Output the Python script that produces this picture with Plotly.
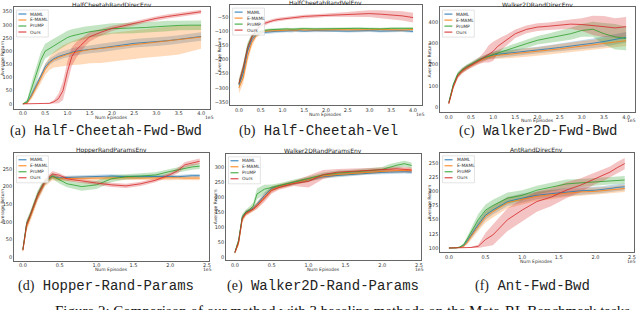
import numpy as np
import plotly.graph_objects as go

W, H = 640, 310

SERIES = ["MAML", "E-MAML", "ProMP", "Ours"]
COLORS = ["#1f77b4", "#ff7f0e", "#2ca02c", "#d62728"]
FILLS = ["rgba(31,119,180,0.28)", "rgba(255,127,14,0.28)", "rgba(44,160,44,0.28)", "rgba(214,39,40,0.28)"]

X_TOP = [0, 0.1, 0.2, 0.3, 0.4, 0.5, 0.6, 0.7, 0.8, 0.9, 1.0, 1.1, 1.2, 1.3, 1.4, 1.5,
         1.75, 2.0, 2.25, 2.5, 2.75, 3.0, 3.25, 3.5, 3.75, 4.0]
X_BOT = [0, 0.05, 0.1, 0.15, 0.2, 0.25, 0.3, 0.4, 0.5, 0.6, 0.8, 1.0, 1.2, 1.4, 1.6, 1.8,
         2.0, 2.1, 2.2, 2.3, 2.4]

# (a) HalfCheetahRandDirecEnv
A_MAML = [0, 5, 35, 70, 100, 140, 160, 172, 180, 186, 192, 196, 200, 203, 205, 207, 212, 217, 224, 230, 233, 236, 240, 245, 250, 256]
A_MAML_SD = [0, 3, 10, 12, 12, 12, 12, 12, 14, 14, 15, 15, 15, 15, 15, 15, 16, 16, 16, 16, 16, 16, 16, 16, 16, 16]
A_EMAML = [0, 3, 30, 65, 95, 130, 155, 168, 176, 183, 188, 193, 197, 200, 203, 206, 210, 215, 220, 225, 230, 235, 238, 243, 248, 254]
A_EMAML_SD = [0, 3, 12, 15, 18, 20, 25, 30, 35, 40, 42, 45, 48, 50, 52, 52, 55, 55, 55, 55, 55, 55, 55, 55, 50, 45]
A_PROMP = [0, 10, 60, 110, 165, 200, 210, 220, 232, 243, 252, 258, 262, 266, 270, 274, 280, 286, 287, 288, 290, 293, 296, 298, 299, 299]
A_PROMP_SD = [0, 8, 25, 30, 30, 28, 28, 28, 28, 28, 26, 25, 25, 24, 24, 22, 22, 20, 20, 20, 20, 20, 20, 18, 18, 18]
A_OURS = [0, 0, 0, 0, 0, 0, 2, 8, 20, 50, 122, 180, 205, 222, 240, 255, 272, 287, 296, 306, 316, 325, 332, 338, 345, 350]
A_OURS_SD = [0, 0, 0, 0, 0, 0, 2, 8, 18, 35, 40, 35, 30, 25, 20, 18, 12, 10, 8, 8, 8, 8, 8, 8, 8, 8]

# (b) HalfCheetahRandVelEnv
B_MAML = [-290, -250, -170, -130, -112, -106, -104, -102, -101, -100, -100, -99, -100, -98, -99, -100, -98, -99, -98, -100, -99, -98, -100, -99, -98, -101]
B_MAML_SD = [15, 15, 15, 12, 8, 6, 6, 6, 5, 5, 5, 5, 5, 5, 5, 5, 5, 5, 5, 5, 5, 5, 5, 5, 5, 5]
B_EMAML = [-300, -265, -190, -140, -115, -105, -100, -99, -98, -97, -97, -96, -96, -97, -95, -96, -95, -96, -95, -95, -96, -95, -94, -95, -96, -94]
B_EMAML_SD = [20, 20, 18, 14, 8, 6, 5, 5, 5, 5, 5, 5, 5, 5, 5, 5, 5, 5, 5, 5, 5, 5, 5, 5, 5, 5]
B_PROMP = [-285, -230, -155, -118, -105, -100, -97, -95, -94, -93, -93, -92, -93, -92, -92, -91, -92, -91, -92, -91, -90, -91, -92, -90, -91, -90]
B_PROMP_SD = [15, 18, 15, 10, 6, 5, 4, 4, 4, 4, 4, 4, 4, 4, 4, 4, 4, 4, 4, 4, 4, 4, 4, 4, 4, 4]
B_OURS = [-285, -230, -160, -120, -95, -80, -72, -66, -62, -59, -57, -55, -53, -51, -50, -48, -46, -44, -42, -40, -39, -38, -40, -42, -46, -52]
B_OURS_SD = [15, 15, 15, 12, 10, 8, 7, 6, 6, 6, 6, 6, 6, 6, 6, 6, 6, 6, 7, 8, 10, 12, 14, 15, 16, 17]

# (c) Walker2DRandDirecEnv
C_MAML = [20, 100, 150, 170, 185, 198, 210, 220, 230, 238, 244, 248, 250, 252, 254, 256, 262, 268, 274, 280, 286, 292, 300, 308, 318, 328]
C_MAML_SD = [5, 10, 10, 10, 10, 10, 10, 10, 12, 12, 15, 15, 15, 15, 15, 15, 16, 16, 16, 18, 18, 20, 22, 25, 25, 25]
C_EMAML = [18, 95, 148, 168, 183, 196, 208, 218, 227, 235, 240, 243, 245, 247, 249, 251, 256, 261, 267, 273, 280, 286, 292, 300, 306, 312]
C_EMAML_SD = [5, 10, 10, 10, 10, 10, 10, 10, 12, 12, 15, 16, 17, 18, 18, 18, 20, 20, 22, 22, 22, 24, 24, 25, 25, 25]
C_PROMP = [22, 105, 155, 175, 190, 202, 215, 225, 233, 240, 246, 255, 262, 268, 275, 283, 298, 314, 324, 334, 345, 360, 366, 345, 330, 322]
C_PROMP_SD = [5, 10, 10, 10, 10, 10, 10, 10, 10, 12, 12, 14, 15, 16, 16, 18, 20, 20, 22, 24, 28, 30, 35, 50, 60, 55]
C_OURS = [15, 95, 145, 170, 185, 195, 208, 220, 235, 250, 262, 285, 300, 315, 330, 345, 365, 376, 380, 386, 390, 388, 384, 378, 372, 378]
C_OURS_SD = [5, 12, 12, 12, 12, 12, 14, 16, 25, 40, 45, 35, 30, 25, 22, 20, 18, 18, 18, 20, 22, 30, 45, 50, 45, 45]

# (d) HopperRandParamsEnv
D_MAML = [20, 90, 115, 145, 172, 192, 212, 228, 224, 226, 227, 229, 230, 228, 229, 230, 229, 228, 230, 231, 231]
D_MAML_SD = [5, 10, 10, 10, 10, 10, 8, 6, 5, 5, 5, 5, 5, 5, 5, 5, 5, 5, 5, 5, 5]
D_EMAML = [18, 85, 112, 140, 170, 190, 210, 226, 222, 223, 224, 224, 225, 225, 224, 225, 224, 225, 224, 225, 224]
D_EMAML_SD = [5, 12, 12, 12, 12, 12, 10, 8, 7, 6, 6, 6, 6, 6, 6, 6, 6, 6, 6, 6, 6]
D_PROMP = [22, 95, 120, 150, 178, 198, 215, 230, 218, 208, 200, 205, 222, 228, 230, 233, 243, 248, 253, 256, 258]
D_PROMP_SD = [5, 10, 10, 10, 10, 10, 8, 8, 10, 10, 12, 12, 10, 8, 8, 8, 8, 8, 8, 8, 8]
D_OURS = [20, 92, 118, 148, 175, 195, 214, 236, 232, 222, 215, 210, 205, 202, 208, 218, 234, 245, 262, 267, 272]
D_OURS_SD = [5, 10, 10, 10, 10, 10, 8, 8, 6, 6, 6, 6, 6, 6, 6, 6, 6, 8, 8, 8, 8]

# (e) Walker2DRandParamsEnv
E_MAML = [15, 50, 130, 148, 155, 162, 175, 205, 228, 236, 248, 258, 268, 272, 276, 280, 282, 283, 284, 284, 283]
E_MAML_SD = [4, 8, 8, 6, 6, 6, 8, 10, 8, 6, 6, 6, 6, 6, 6, 6, 6, 6, 6, 6, 6]
E_EMAML = [14, 45, 125, 145, 152, 160, 172, 200, 225, 235, 247, 257, 270, 275, 279, 283, 286, 287, 288, 289, 289]
E_EMAML_SD = [4, 8, 10, 8, 8, 8, 10, 12, 10, 8, 7, 7, 7, 7, 7, 7, 7, 7, 7, 7, 7]
E_PROMP = [16, 55, 135, 150, 158, 170, 210, 226, 232, 238, 250, 260, 274, 280, 283, 287, 292, 300, 306, 311, 305]
E_PROMP_SD = [4, 8, 8, 8, 10, 12, 18, 15, 10, 8, 8, 8, 8, 8, 8, 8, 8, 10, 10, 10, 10]
E_OURS = [15, 50, 128, 146, 153, 160, 170, 195, 222, 232, 245, 252, 275, 283, 286, 288, 290, 292, 294, 292, 290]
E_OURS_SD = [4, 8, 8, 8, 8, 8, 10, 12, 10, 8, 8, 20, 15, 10, 8, 8, 8, 8, 8, 8, 8]

# (f) AntRandDirecEnv
F_MAML = [100, 100, 100, 101, 104, 112, 122, 141, 158, 167, 182, 188, 193, 196, 199, 201, 202, 203, 205, 207, 208]
F_MAML_SD = [0, 0, 0, 1, 2, 4, 6, 8, 8, 8, 8, 8, 7, 7, 7, 6, 6, 6, 6, 6, 6]
F_EMAML = [100, 100, 100, 101, 103, 110, 120, 138, 155, 164, 180, 186, 191, 194, 197, 199, 200, 201, 202, 204, 205]
F_EMAML_SD = [0, 0, 0, 1, 2, 4, 6, 8, 10, 10, 10, 9, 8, 8, 7, 6, 6, 6, 6, 6, 6]
F_PROMP = [100, 100, 100, 102, 106, 116, 128, 150, 167, 175, 188, 193, 202, 208, 213, 215, 217, 218, 219, 220, 220]
F_PROMP_SD = [0, 0, 0, 1, 2, 5, 7, 10, 10, 10, 10, 9, 8, 8, 8, 7, 7, 7, 7, 7, 7]
F_OURS = [100, 100, 100, 100, 100, 100, 101, 103, 115, 123, 150, 167, 182, 190, 202, 211, 223, 228, 234, 242, 249]
F_OURS_SD = [0, 0, 0, 0, 0, 0, 1, 3, 12, 18, 20, 20, 18, 16, 14, 12, 10, 10, 10, 10, 10]

TITLES = ["HalfCheetahRandDirecEnv", "HalfCheetahRandVelEnv", "Walker2DRandDirecEnv",
          "HopperRandParamsEnv", "Walker2DRandParamsEnv", "AntRandDirecEnv"]
CAP_LETTERS = ["(a)", "(b)", "(c)", "(d)", "(e)", "(f)"]
CAP_NAMES = ["Half-Cheetah-Fwd-Bwd", "Half-Cheetah-Vel", "Walker2D-Fwd-Bwd",
             "Hopper-Rand-Params", "Walker2D-Rand-Params", "Ant-Fwd-Bwd"]
FIG_CAPTION = "Figure 2: Comparison of our method with 3 baseline methods on the Meta-RL Benchmark tasks."

TOP_XTICKS = [0, 0.5, 1.0, 1.5, 2.0, 2.5, 3.0, 3.5, 4.0]
BOT_XTICKS = [0, 0.5, 1.0, 1.5, 2.0, 2.5]

panels = [
    dict(x=X_TOP, m=[A_MAML, A_EMAML, A_PROMP, A_OURS], s=[A_MAML_SD, A_EMAML_SD, A_PROMP_SD, A_OURS_SD],
         xr=[-0.2, 4.2], yr=[-18, 368], xt=TOP_XTICKS, yt=list(range(0, 351, 50)),
         box=(14, 211, 7, 108.6), cap=(106, 131)),
    dict(x=X_TOP, m=[B_MAML, B_EMAML, B_PROMP, B_OURS], s=[B_MAML_SD, B_EMAML_SD, B_PROMP_SD, B_OURS_SD],
         xr=[-0.2, 4.2], yr=[-362, -8], xt=TOP_XTICKS, yt=list(range(-350, -49, 50)),
         box=(231.25, 423.75, 5.1, 105.4), cap=(320, 131)),
    dict(x=X_TOP, m=[C_MAML, C_EMAML, C_PROMP, C_OURS], s=[C_MAML_SD, C_EMAML_SD, C_PROMP_SD, C_OURS_SD],
         xr=[-0.2, 4.2], yr=[-22, 470], xt=TOP_XTICKS, yt=list(range(0, 401, 100)),
         box=(442, 638, 7.1, 111.7), cap=(541, 131)),
    dict(x=X_BOT, m=[D_MAML, D_EMAML, D_PROMP, D_OURS], s=[D_MAML_SD, D_EMAML_SD, D_PROMP_SD, D_OURS_SD],
         xr=[-0.12, 2.52], yr=[-10, 296], xt=BOT_XTICKS, yt=list(range(0, 251, 50)),
         box=(14.1, 209.5, 152.8, 260.5), cap=(106, 286)),
    dict(x=X_BOT, m=[E_MAML, E_EMAML, E_PROMP, E_OURS], s=[E_MAML_SD, E_EMAML_SD, E_PROMP_SD, E_OURS_SD],
         xr=[-0.12, 2.52], yr=[-11, 344], xt=BOT_XTICKS, yt=list(range(0, 301, 50)),
         box=(227.1, 422.5, 153.8, 260.3), cap=(325, 286)),
    dict(x=X_BOT, m=[F_MAML, F_EMAML, F_PROMP, F_OURS], s=[F_MAML_SD, F_EMAML_SD, F_PROMP_SD, F_OURS_SD],
         xr=[-0.12, 2.52], yr=[93, 268], xt=BOT_XTICKS, yt=list(range(100, 251, 25)),
         box=(442.2, 636.5, 152.8, 252), cap=(535, 286)),
]


def fx(px):
    return px / W


def fy(py):
    return 1 - py / H


TICKFONT = dict(family="DejaVu Sans", size=5, color="#333")
fig = go.Figure()
annotations = []
shapes = []

for i, p in enumerate(panels):
    sfx = "" if i == 0 else str(i + 1)
    xa, ya = "x" + sfx, "y" + sfx
    x = np.array(p["x"], dtype=float)
    for k in range(4):
        m = np.array(p["m"][k], dtype=float)
        s = np.array(p["s"][k], dtype=float)
        fig.add_trace(go.Scatter(x=np.concatenate([x, x[::-1]]), y=np.concatenate([m + s, (m - s)[::-1]]),
                                 fill="toself", fillcolor=FILLS[k], line=dict(width=0),
                                 mode="lines", hoverinfo="skip", showlegend=False, xaxis=xa, yaxis=ya))
    for k in range(4):
        fig.add_trace(go.Scatter(x=x, y=p["m"][k], mode="lines", name=SERIES[k],
                                 line=dict(color=COLORS[k], width=0.8), showlegend=False,
                                 xaxis=xa, yaxis=ya))
    l, r, t, b = p["box"]
    axcommon = dict(showgrid=False, zeroline=False, showline=True, mirror=True,
                    linecolor="#666", linewidth=0.6, tickfont=TICKFONT, ticks="")
    fig.update_layout(**{
        "xaxis" + sfx: dict(domain=[fx(l), fx(r)], range=p["xr"], tickvals=p["xt"],
                            ticktext=["%.1f" % v for v in p["xt"]], anchor=ya, **axcommon),
        "yaxis" + sfx: dict(domain=[fy(b), fy(t)], range=p["yr"], tickvals=p["yt"],
                            anchor=xa, **axcommon),
    })
    cx = (l + r) / 2
    # panel title
    annotations.append(dict(x=fx(cx), y=fy(t - 3), xref="paper", yref="paper", text=TITLES[i],
                            showarrow=False, font=dict(family="DejaVu Sans", size=6, color="#222"),
                            xanchor="center", yanchor="middle"))
    # axis titles
    annotations.append(dict(x=fx(cx), y=fy(b + 9), xref="paper", yref="paper", text="Num Episodes",
                            showarrow=False, font=dict(family="DejaVu Sans", size=4.5, color="#333"),
                            xanchor="center", yanchor="middle"))
    annotations.append(dict(x=fx(l - 11), y=fy((t + b) / 2), xref="paper", yref="paper",
                            text="Average Return", textangle=-90, showarrow=False,
                            font=dict(family="DejaVu Sans", size=4.5, color="#333"),
                            xanchor="center", yanchor="middle"))
    annotations.append(dict(x=fx(min(r - 1, 634)), y=fy(b + 9), xref="paper", yref="paper", text="1e5",
                            showarrow=False, font=dict(family="DejaVu Sans", size=4.5, color="#333"),
                            xanchor="center", yanchor="middle"))
    # caption
    cxp, cyp = p["cap"]
    annotations.append(dict(x=fx(cxp), y=fy(cyp), xref="paper", yref="paper",
                            text='<span style="font-family:Liberation Serif">' + CAP_LETTERS[i] + '</span> ' + CAP_NAMES[i],
                            showarrow=False, font=dict(family="Liberation Mono", size=14, color="#222"),
                            xanchor="center", yanchor="middle"))
    # legend
    lx0, ly0 = l + 2.5, t + 3
    rowh = 6
    shapes.append(dict(type="rect", xref="paper", yref="paper", x0=fx(lx0), x1=fx(lx0 + 32),
                       y0=fy(ly0), y1=fy(ly0 + 4 * rowh + 3), line=dict(color="#d0d0d0", width=0.6),
                       fillcolor="rgba(255,255,255,0.85)", layer="above"))
    for k in range(4):
        yy = ly0 + 4 + k * rowh
        shapes.append(dict(type="line", xref="paper", yref="paper", x0=fx(lx0 + 2), x1=fx(lx0 + 10),
                           y0=fy(yy), y1=fy(yy), line=dict(color=COLORS[k], width=1), layer="above"))
        annotations.append(dict(x=fx(lx0 + 12), y=fy(yy), xref="paper", yref="paper", text=SERIES[k],
                                showarrow=False, font=dict(family="DejaVu Sans", size=4.5, color="#333"),
                                xanchor="left", yanchor="middle"))

annotations.append(dict(x=fx(346), y=fy(301), xref="paper", yref="paper", text=FIG_CAPTION,
                        showarrow=False, font=dict(family="Liberation Serif", size=15, color="#111"),
                        xanchor="center", yanchor="top"))

fig.update_layout(width=W, height=H, margin=dict(l=0, r=0, t=0, b=0),
                  paper_bgcolor="white", plot_bgcolor="white", showlegend=False,
                  annotations=annotations, shapes=shapes)
fig.write_html("out.html", config={"displayModeBar": False},
               post_script="document.body.style.margin='0';")
